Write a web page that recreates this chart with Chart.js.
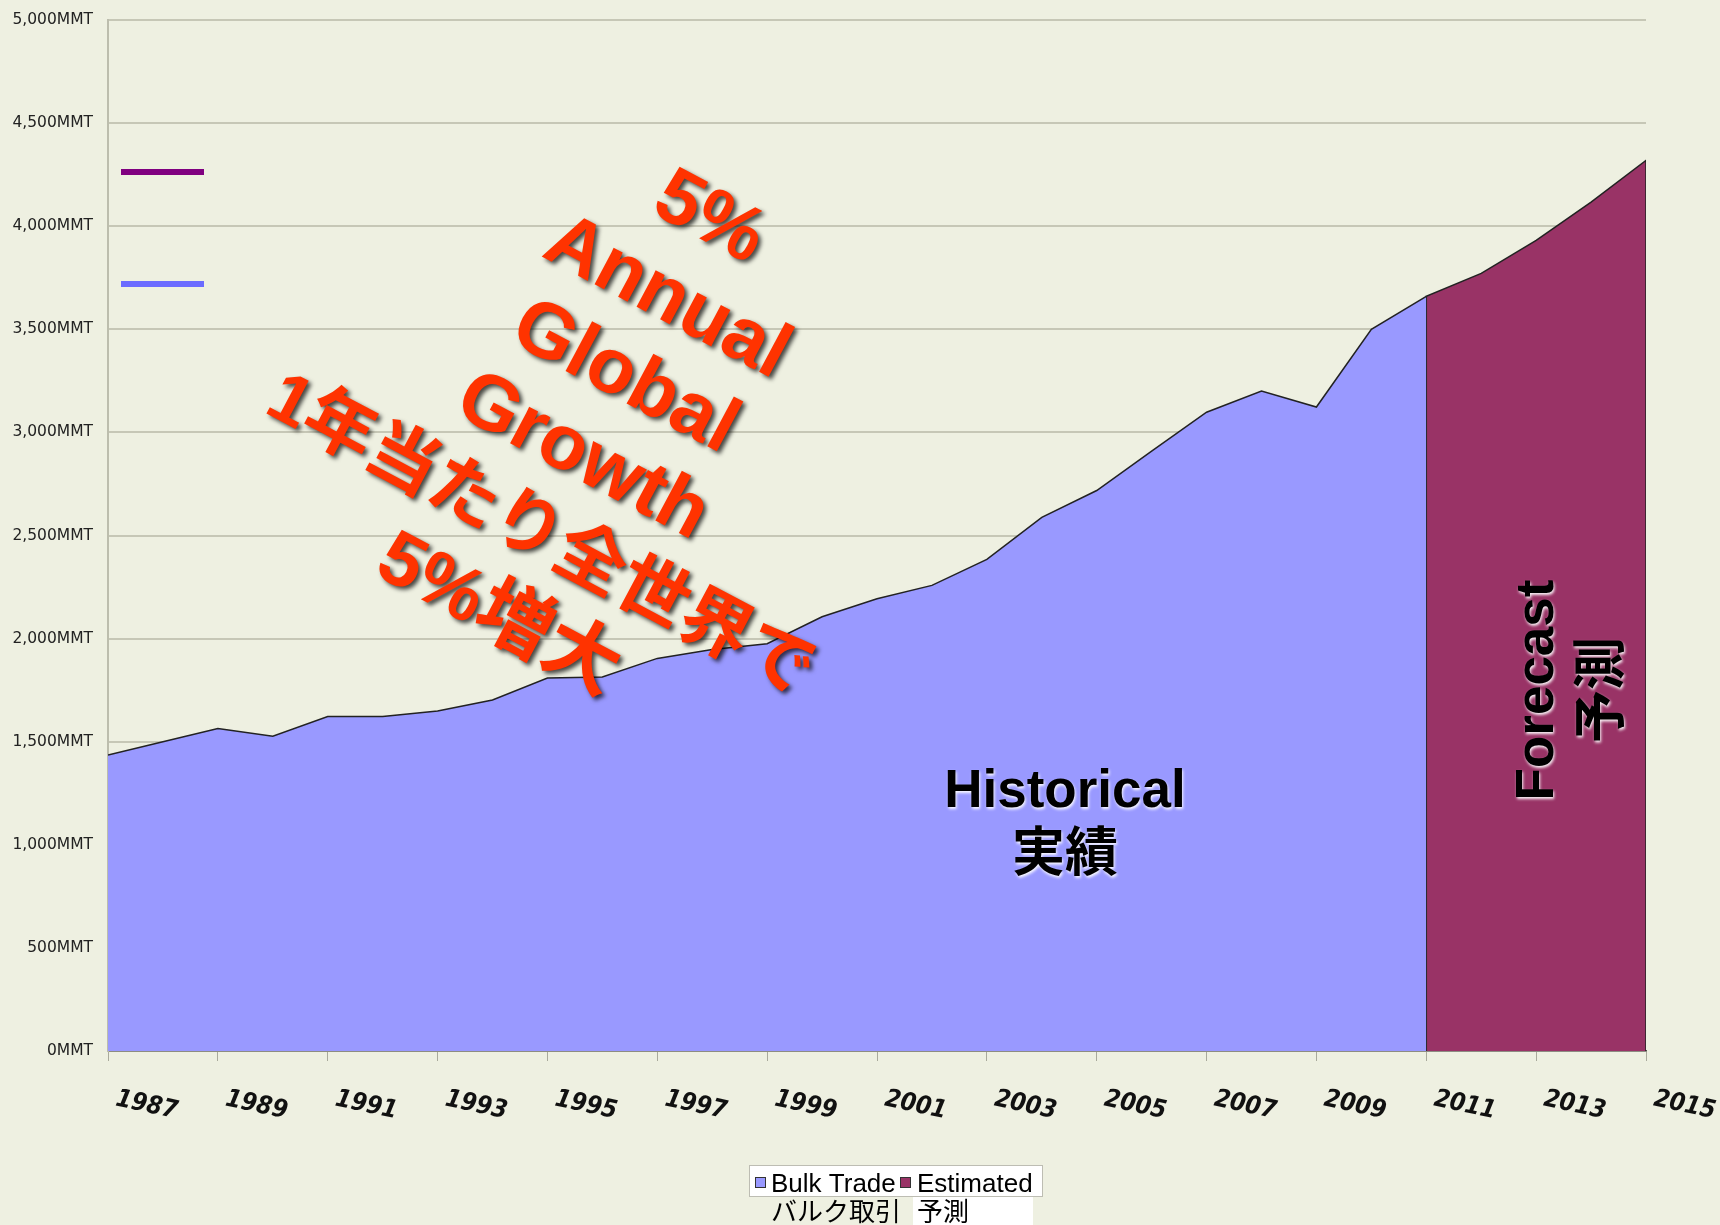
<!DOCTYPE html>
<html>
<head>
  <meta charset="UTF-8" />
  <title>Bulk Trade - Historical and Forecast</title>
  <script src="https://cdn.jsdelivr.net/npm/chart.js"></script>
  <style>
    html, body { margin: 0; padding: 0; background: #eef0e1; }
    canvas { display: block; }
  </style>
</head>
<body>

<canvas id="bulkChart" width="1720" height="1225"></canvas>

<script>
  // 1) Data (million metric tonnes)
  const bulkYears = [1987, 1988, 1989, 1990, 1991, 1992, 1993, 1994, 1995, 1996, 1997, 1998, 1999,
                     2000, 2001, 2002, 2003, 2004, 2005, 2006, 2007, 2008, 2009, 2010, 2011];
  const bulkTrade = [1436, 1500, 1564, 1527, 1622, 1622, 1649, 1702, 1809, 1814, 1904, 1947, 1975,
                     2106, 2193, 2258, 2384, 2588, 2718, 2909, 3098, 3201, 3123, 3500, 3660];
  const estYears  = [2011, 2012, 2013, 2014, 2015];
  const estimated = [3660, 3771, 3931, 4117, 4319];

  const xTickYears = [1987, 1989, 1991, 1993, 1995, 1997, 1999, 2001, 2003, 2005, 2007, 2009, 2011, 2013, 2015];
  const yTicks = [0, 500, 1000, 1500, 2000, 2500, 3000, 3500, 4000, 4500, 5000];

  const legendNames = [['Bulk Trade', 'バルク取引'], ['Estimated', '予測']];

  // 2) Points for the library (forecast block is closed down to zero on both sides)
  const bulkPoints = bulkYears.map((yr, i) => ({ x: yr, y: bulkTrade[i] }));
  const estPoints = [{ x: estYears[0], y: 0 }]
    .concat(estYears.map((yr, i) => ({ x: yr, y: estimated[i] })))
    .concat([{ x: estYears[estYears.length - 1], y: 0 }]);

  const BG = '#eef0e1';

  // background
  const bgPlugin = {
    id: 'bg',
    beforeDraw(chart) {
      const c = chart.ctx;
      c.save();
      c.fillStyle = BG;
      c.fillRect(0, 0, chart.width, chart.height);
      c.restore();
    }
  };

  // slanted year labels under the x axis
  const yearLabels = {
    id: 'yearLabels',
    afterDraw(chart) {
      const c = chart.ctx, xs = chart.scales.x, bottom = chart.chartArea.bottom;
      c.save();
      c.font = 'italic bold 25px "DejaVu Sans Condensed", "DejaVu Sans"';
      c.fillStyle = '#111';
      c.textBaseline = 'middle';
      c.textAlign = 'left';
      xs.ticks.forEach(t => {
        const px = xs.getPixelForValue(t.value);
        c.save();
        c.translate(px + 8, bottom + 48);
        c.rotate(12 * Math.PI / 180);
        c.fillText(String(t.value), 0, 0);
        c.restore();
      });
      c.restore();
    }
  };

  // text notes and the two stray key lines
  const notes = {
    id: 'notes',
    afterDraw(chart) {
      const c = chart.ctx, a = chart.chartArea;
      c.save();

      // short key lines top-left
      c.lineWidth = 6;
      c.strokeStyle = '#800080';
      c.beginPath(); c.moveTo(a.left + 13, 172); c.lineTo(a.left + 96, 172); c.stroke();
      c.strokeStyle = '#6b6bff';
      c.beginPath(); c.moveTo(a.left + 13, 284); c.lineTo(a.left + 96, 284); c.stroke();

      // red growth note
      const red = ['5%', 'Annual', 'Global', 'Growth', '1年当たり全世界で', '5%増大'];
      const redSize = [78, 78, 78, 78, 71, 76];
      c.save();
      c.translate(709, 219);
      c.rotate(28 * Math.PI / 180);
      c.textAlign = 'center';
      c.textBaseline = 'middle';
      c.fillStyle = '#ff3300';
      c.shadowColor = 'rgba(0,0,0,0.7)';
      c.shadowBlur = 4;
      c.shadowOffsetX = 3;
      c.shadowOffsetY = 3;
      red.forEach((s, i) => {
        c.font = 'bold ' + redSize[i] + 'px "Liberation Sans", "Noto Sans CJK JP", sans-serif';
        c.fillText(s, 0, i * 90);
      });
      c.restore();

      // Historical / Forecast labels with a light glow
      c.font = 'bold 53px "Liberation Sans", "Noto Sans CJK JP", sans-serif';
      c.textAlign = 'center';
      c.textBaseline = 'middle';
      c.fillStyle = '#000';
      c.shadowColor = 'rgba(255,255,255,0.95)';
      c.shadowBlur = 3;
      c.shadowOffsetX = 1;
      c.shadowOffsetY = 2;
      c.fillText('Historical', 1065, 792);
      c.fillText('実績', 1065, 856);

      c.save();
      c.translate(1538, 690);
      c.rotate(-Math.PI / 2);
      c.fillText('Forecast', 0, 0);
      c.fillText('予測', 0, 66);
      c.restore();

      c.restore();
    }
  };

  // legend box at the bottom
  const keyBox = {
    id: 'keyBox',
    afterDraw(chart) {
      const c = chart.ctx;
      const ds = chart.data.datasets;
      c.save();
      c.fillStyle = '#ffffff';
      c.fillRect(749, 1165, 293, 31);
      c.fillRect(913, 1196, 120, 29);
      c.strokeStyle = '#bdbdb3';
      c.lineWidth = 1;
      c.strokeRect(749.5, 1165.5, 293, 31);

      const xs = [755, 900];
      const tx = [771, 917];
      c.font = '26px "Liberation Sans", "Noto Sans CJK JP", sans-serif';
      c.textBaseline = 'alphabetic';
      c.textAlign = 'left';
      ds.forEach((d, i) => {
        c.fillStyle = d.backgroundColor;
        c.fillRect(xs[i], 1177, 10, 10);
        c.strokeStyle = '#333';
        c.strokeRect(xs[i] + 0.5, 1177.5, 10, 10);
        c.fillStyle = '#000';
        c.fillText(legendNames[i][0], tx[i], 1192);
        c.fillText(legendNames[i][1], tx[i], 1221);
      });
      c.restore();
    }
  };

  // 3) Chart
  const ctx = document.getElementById('bulkChart').getContext('2d');
  const bulkChart = new Chart(ctx, {
    type: 'line',
    data: {
      datasets: [{
        label: 'Bulk Trade',
        data: bulkPoints,
        backgroundColor: '#9999ff',
        borderColor: '#222222',
        borderWidth: 1.5,
        fill: 'origin',
        pointRadius: 0,
        tension: 0
      }, {
        label: 'Estimated',
        data: estPoints,
        backgroundColor: '#993366',
        borderColor: '#222222',
        borderWidth: 1.5,
        fill: 'origin',
        pointRadius: 0,
        tension: 0
      }]
    },
    options: {
      responsive: false,
      animation: false,
      layout: { padding: { top: 20, right: 74, bottom: 0, left: 0 } },
      scales: {
        x: {
          type: 'linear',
          min: 1987,
          max: 2015,
          afterBuildTicks: scale => { scale.ticks = xTickYears.map(v => ({ value: v })); },
          afterFit: scale => { scale.height = 174; scale.paddingLeft = 0; scale.paddingRight = 0; },
          ticks: { display: false },
          grid: { drawOnChartArea: false, drawTicks: true, tickLength: 10, color: '#a9aa9c', lineWidth: 1 },
          border: { color: '#55554f', width: 1.5 }
        },
        y: {
          min: 0,
          max: 5000,
          afterBuildTicks: scale => { scale.ticks = yTicks.map(v => ({ value: v })); },
          afterFit: scale => { scale.width = 108; scale.paddingTop = 0; scale.paddingBottom = 0; },
          ticks: {
            padding: 15,
            color: '#222',
            font: { family: 'DejaVu Sans', size: 15.5 },
            callback: v => v.toLocaleString('en-US') + 'MMT'
          },
          grid: { color: '#c6c7b6', lineWidth: 2, drawTicks: false },
          border: { color: '#bcbdad', width: 2 }
        }
      },
      plugins: {
        legend: { display: false },
        tooltip: { enabled: false }
      }
    },
    plugins: [bgPlugin, yearLabels, notes, keyBox]
  });
</script>

</body>
</html>
